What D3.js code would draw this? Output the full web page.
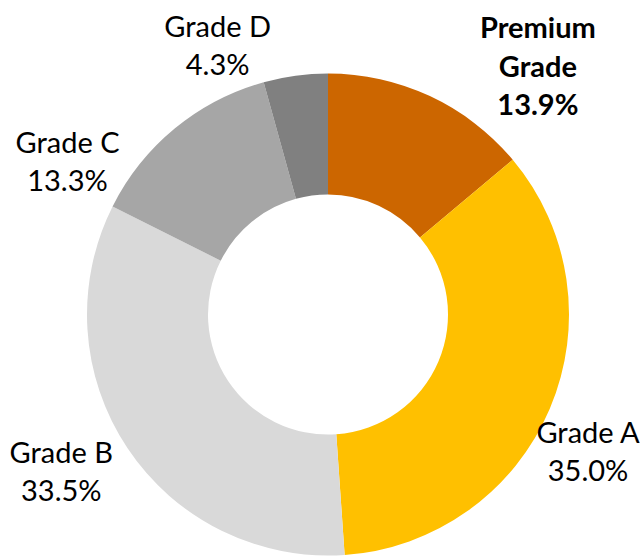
<!DOCTYPE html>
<html>
<head>
<meta charset="utf-8">
<script src="https://cdn.jsdelivr.net/npm/d3@7"></script>
<style>
  body { margin: 0; background: #fff; }
  text { font-family: Lato, "Open Sans", sans-serif; fill: #000; }
</style>
</head>
<body>
<svg id="chart"></svg>
<script>
const width = 643;
const height = 558;
const cx = 328, cy = 314.5;
const outerR = 241, innerR = 120;

const grades = ["Premium Grade", "Grade A", "Grade B", "Grade C", "Grade D"];
const shares = [13.9, 35.0, 33.5, 13.3, 4.3];
const colors = ["#CC6600", "#FFC000", "#D9D9D9", "#A6A6A6", "#808080"];
const labelLines = [["Premium", "Grade"], ["Grade A"], ["Grade B"], ["Grade C"], ["Grade D"]];
const boldLabel = [true, false, false, false, false];
// Excel-style hand nudges of the data labels from their mid-angle spot
const labelNudge = [[83, 23], [-16, 19], [-17, -10], [-70, 78], [-70, 28]];

const svg = d3.select("#chart")
    .attr("width", width)
    .attr("height", height);

const data = grades.map((g, i) => ({ grade: g, value: shares[i], i: i }));

const pie = d3.pie()
    .sort(null)
    .value(d => d.value);

const arcs = pie(data);

const arc = d3.arc()
    .innerRadius(innerR)
    .outerRadius(outerR);

const g = svg.append("g")
    .attr("transform", `translate(${cx}, ${cy})`);

g.selectAll("path")
    .data(arcs)
    .enter()
    .append("path")
    .attr("d", arc)
    .attr("fill", d => colors[d.data.i]);

const labelArc = d3.arc()
    .innerRadius(300)
    .outerRadius(300);

const lineH = 38.5;
arcs.forEach(a => {
    const i = a.data.i;
    const [x, y] = labelArc.centroid(a);
    const lx = x + labelNudge[i][0];
    const ly = y + labelNudge[i][1];
    const lines = labelLines[i].concat([a.data.value.toFixed(1) + "%"]);
    const n = lines.length;
    const t = g.append("text")
        .attr("text-anchor", "middle")
        .style("font-size", "29px")
        .style("font-weight", boldLabel[i] ? "bold" : "normal");
    lines.forEach((s, k) => {
        t.append("tspan")
            .attr("x", lx)
            .attr("y", ly + (k - (n - 1) / 2) * lineH + 11)
            .text(s);
    });
});
</script>
</body>
</html>
